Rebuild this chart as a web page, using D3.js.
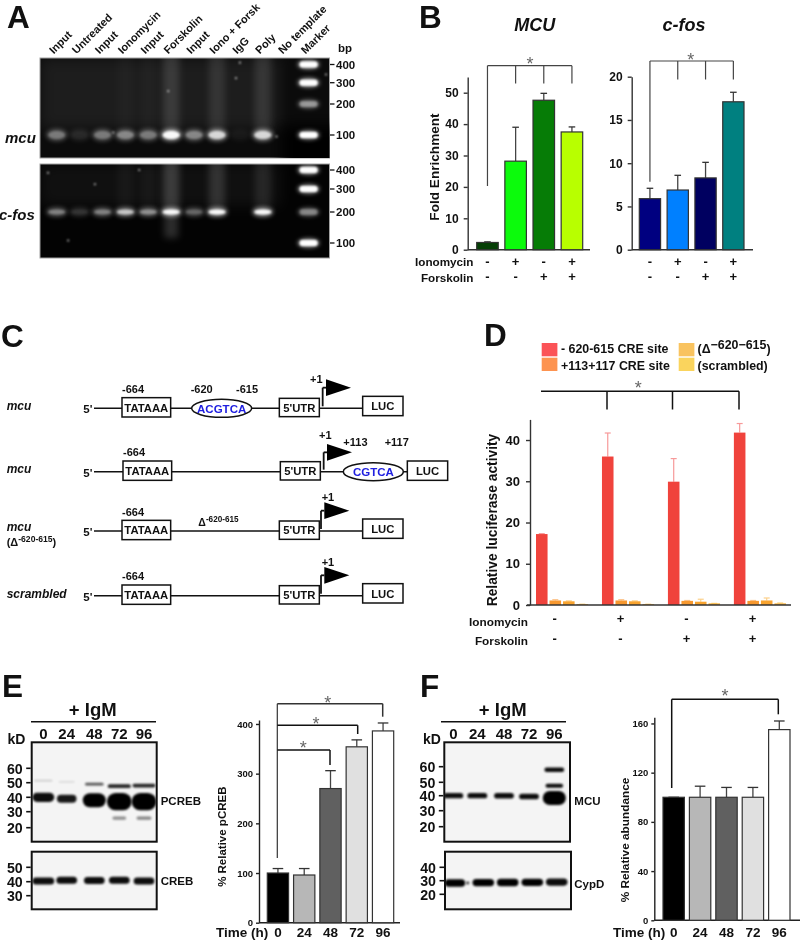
<!DOCTYPE html>
<html><head><meta charset="utf-8">
<script src="https://cdn.jsdelivr.net/npm/d3@7/dist/d3.min.js"></script>
<style>
html,body{margin:0;padding:0;background:#fff}
svg{display:block;filter:blur(0.35px)}
text{font-family:"Liberation Sans",Arial,sans-serif;font-weight:bold;fill:#111}
</style></head><body><svg id="c" width="800" height="940"></svg>
<script>
// ---------- Panel A data ----------
const gelLanes=["Input","Untreated","Input","Ionomycin","Input","Forskolin","Input","Iono + Forsk","IgG","Poly","No template","Marker"];
const mcuBands=[.5,.16,.5,.55,.5,1,.55,.85,.07,.85,0];
const fosBands=[.55,.25,.55,.8,.6,1,.45,1,0,1,0];
const mcuSmear=[0,0,0,.02,.02,.13,0,.1,0,.11,0];
const fosSmear=[0,0,0,.03,.03,.18,0,.14,0,.09,0];
const fosTail=[0,0,0,0,0,.16,0,0,0,0,0];
const bpTicks=[400,300,200,100];
const mcuMarker=[1,1,.6,1];
const fosMarker=[1,1,.55,1];
const mcuSpeckLane=[4.87,7.83,2.47,11.76,8.0,9.6];
const mcuSpeckBp=[260,325,108,345,410,95];
const fosSpeckLane=[.5,-.38,3.6,1.67];
const fosSpeckBp=[108,385,400,325];
// ---------- Panel B data ----------
const treatCats=["a","b","c","d"];
const ionoSigns=["-","+","-","+"];
const forskSigns=["-","-","+","+"];
const mcuVals=[2.3,28.2,47.6,37.5];
const mcuTops=[2.5,39,49.8,39.1];
const mcuColors=["#063f06","#0cfb0c","#067c06","#b8ff00"];
const mcuTicks=[0,10,20,30,40,50];
const fosVals=[5.9,6.9,8.3,17.1];
const fosTops=[7.1,8.6,10.1,18.2];
const fosColors=["#000080","#0080ff","#000060","#008080"];
const fosTicks=[0,5,10,15,20];
// ---------- Panel D data ----------
const lucSeries=["- 620-615 CRE site","+113+117 CRE site","(Δ","(scrambled)"];
const lucVals=[[17.2,1.1,.9,.2],[36,1.1,.9,.2],[29.9,1,.8,.4],[41.8,1,1.1,.4]];
const lucTops=[[17.3,1.3,1,.2],[41.7,1.3,1,.2],[35.5,1.1,1.4,.4],[44,1.1,1.7,.5]];
const lucColors=["#f0433c","#f7982f","#f8a32e","#f8b33c"];
const lucErrColors=["#f79a9a","#fcc690","#fcd08a","#fcd88a"];
const lucLegend=["#fb5357","#fd9350","#f9c35f","#fad45d"];
const lucTicks=[0,10,20,30,40];
// ---------- Panel E / F data ----------
const hours=["0","24","48","72","96"];
const greyFill=["#000000","#b7b7b7","#606060","#e0e0e0","#ffffff"];
const creVals=[100,96,270,354,386];
const creTops=[109,109,306,368,402];
const creTicks=[0,100,200,300,400];
const abuVals=[100,100,100,100,155];
const abuTops=[100,109,108,108,162];
const abuTicks=[0,40,80,120,160];
const eKd=[60,50,40,30,20];
const eKd2=[50,40,30];
const fKd=[60,50,40,30,20];
const fKd2=[40,30,20];
// bands: lane, kD, darkness, half thickness, width factor
const pcrebBands=[[0,51.4,.16,.9,.8],[1,50.6,.1,.9,.7],[2,49,.65,1.3,.8],[3,47.6,.85,1.9,1],[4,48,.85,1.8,1],
 [0,40,.95,4.6,.95],[1,39,.9,4,.85],[2,38,1,7,1],[3,37,1,8.6,1.08],[4,37,1,8.6,1.08],
 [3,26,.42,1.7,.6],[4,26,.45,1.7,.65]];
const crebBands=[[0,40.5,.95,3.5,.95],[1,41,.95,3.5,.9],[2,40.8,.95,3.5,.9],[3,41,.95,3.5,.9],[4,40.4,.95,3.5,.9]];
const mcuBlot=[[0,40,.95,2.6,.9],[1,40,.95,2.6,.9],[2,40,.95,2.8,.9],[3,39.5,.95,2.8,.9],[4,38.5,1,7,1.05],[4,58,.95,2.2,.9],[4,47.5,.95,2,.8]];
const cypBlot=[[0,28.3,1,3.8,.85],[1,28.3,.75,1.4,.14],[2,28.6,1,3.7,.9],[3,28.7,1,3.7,.9],[4,28.8,1,3.6,.9],[5,29,.95,3.6,.9]];

const svg=d3.select("#c");
const defs=svg.append("defs");
[["b1",.9],["b2",2.1],["b3",3.5],["b6",7]].forEach(([id,s])=>{
  defs.append("filter").attr("id",id).attr("x","-80%").attr("y","-80%").attr("width","260%").attr("height","260%")
    .append("feGaussianBlur").attr("stdDeviation",s);
});
const txt=(g,x,y,s,size,o={})=>{
  const t=g.append("text").attr("x",x).attr("y",y).attr("font-size",size).text(s);
  if(o.anchor)t.attr("text-anchor",o.anchor);
  if(o.italic)t.attr("font-style","italic");
  if(o.fill)t.style("fill",o.fill);
  if(o.weight)t.style("font-weight",o.weight);
  if(o.rotate!==undefined)t.attr("transform",`rotate(${o.rotate} ${x} ${y})`);
  return t;
};
const line=(g,x1,y1,x2,y2,c="#111",w=1.5)=>g.append("line").attr("x1",x1).attr("y1",y1).attr("x2",x2).attr("y2",y2).attr("stroke",c).attr("stroke-width",w);
const star=(g,x,cy)=>txt(g,x,cy+10.2,"*",18,{anchor:"middle",fill:"#666",weight:"normal"});

// panel letters
[["A",7,28],["B",419,28],["C",1,347],["D",484,346],["E",2,697],["F",420,697]].forEach(d=>txt(svg,d[1],d[2],d[0],31.5));

// ---------- Panel A ----------
const A=svg.append("g");
const laneX=d3.scaleLinear().domain([0,11]).range([56.7,308.6]);
const gelW=[40,329.5];
function gel(y0,y1,bpRange,bands,smear,marker,speckL,speckB,bandRy,bgColor,upperOp){
  const isMcu=bands===mcuBands;
  const bp=d3.scaleLinear().domain([100,200,300,400]).range(bpRange);
  const id="clip"+y0;
  defs.append("clipPath").attr("id",id).append("rect").attr("x",gelW[0]).attr("y",y0).attr("width",gelW[1]-gelW[0]).attr("height",y1-y0);
  A.append("rect").attr("x",gelW[0]).attr("y",y0).attr("width",gelW[1]-gelW[0]).attr("height",y1-y0).attr("fill",bgColor).attr("stroke","#a0a0a0").attr("stroke-width",1);
  const g=A.append("g").attr("clip-path",`url(#${id})`);
  const bandY=bp(isMcu?100:200);
  if(upperOp) g.append("rect").attr("x",gelW[0]).attr("y",y0).attr("width",240).attr("height",bandY-y0-6).attr("fill","#fff").attr("opacity",upperOp).attr("filter","url(#b6)");
  if(isMcu) g.append("rect").attr("x",laneX(10)-4).attr("y",bp(150)+6).attr("width",70).attr("height",70).attr("fill","#000").attr("filter","url(#b6)");
  g.selectAll(".sm").data(smear).join("rect").attr("x",(d,i)=>laneX(i)-8).attr("y",y0-6).attr("width",16)
    .attr("height",bandY-y0+4).attr("fill","#fff").attr("opacity",d=>d).attr("filter","url(#b3)");
  if(!isMcu) g.selectAll(".tl").data(fosTail).join("rect").attr("x",(d,i)=>laneX(i)-7).attr("y",bandY).attr("width",14)
    .attr("height",26).attr("fill","#fff").attr("opacity",d=>d).attr("filter","url(#b3)");
  // soft halo plus brighter core for each band
  g.selectAll(".hl").data(bands).join("ellipse").attr("cx",(d,i)=>laneX(i)).attr("cy",bandY).attr("rx",10.5).attr("ry",bandRy+1)
    .attr("fill","#fff").attr("opacity",d=>d*.55).attr("filter","url(#b2)");
  g.selectAll(".bd").data(bands).join("ellipse").attr("cx",(d,i)=>laneX(i)).attr("cy",bandY).attr("rx",8.5).attr("ry",bandRy-1.2)
    .attr("fill","#fff").attr("opacity",d=>d*d*.95).attr("filter","url(#b1)");
  g.selectAll(".mh").data(bpTicks).join("ellipse").attr("cx",laneX(11)).attr("cy",d=>bp(d)).attr("rx",11).attr("ry",4.6)
    .attr("fill","#fff").attr("opacity",(d,i)=>marker[i]*.6).attr("filter","url(#b2)");
  g.selectAll(".mk").data(bpTicks).join("rect").attr("x",laneX(11)-9).attr("y",d=>bp(d)-3).attr("width",18).attr("height",6).attr("rx",3)
    .attr("fill","#fff").attr("opacity",(d,i)=>marker[i]*marker[i]).attr("filter","url(#b1)");
  g.selectAll(".sp").data(speckL).join("circle").attr("cx",d=>laneX(d)).attr("cy",(d,i)=>bp(speckB[i])).attr("r",1.1).attr("fill","#bbb").attr("filter","url(#b1)");
  bpTicks.forEach(v=>{line(A,gelW[1]+.5,bp(v),gelW[1]+5,bp(v),"#111",1.3);txt(A,336,bp(v)+4.2,v,11.5);});
}
gel(58,158,[135,104,82.7,64.5],mcuBands,mcuSmear,mcuMarker,mcuSpeckLane,mcuSpeckBp,5.2,"#0b0b0b",.07);
gel(164,258,[243,212,189,170],fosBands,fosSmear,fosMarker,fosSpeckLane,fosSpeckBp,3.8,"#030303",.05);
gelLanes.forEach((s,i)=>txt(A,laneX(i)-3,54.5,s,11,{rotate:-45}));
txt(A,338,52,"bp",11.5);
txt(A,5,143,"mcu",15,{italic:true});
txt(A,-1,220,"c-fos",15,{italic:true});

// ---------- generic bar chart ----------
function chart(o){
  const g=svg.append("g");
  const y=d3.scaleLinear().domain([0,o.dMax]).range([o.y0,o.yTop]);
  const x=d3.scaleBand().domain(o.cats).range(o.barRange).paddingInner(o.pad);
  g.append("g").attr("transform",`translate(${o.ax},0)`)
    .call(d3.axisLeft(y).tickValues(o.ticks).tickSize(o.tick||4).tickSizeOuter(0))
    .call(s=>{s.selectAll("path,line").attr("stroke",o.axC||"#333").attr("stroke-width",1.4);
      s.selectAll("text").attr("font-size",o.tf).attr("x",-(o.tick||4)-(o.tp||5)).style("font-family",'"Liberation Sans"').style("font-weight","bold").attr("fill","#111");});
  line(g,o.ax,o.y0,o.xEnd,o.y0,o.axC||"#333",1.4);
  g.selectAll(".err").data(o.tops).join("g").each(function(d,i){
    const s=d3.select(this),cx=x(o.cats[i])+x.bandwidth()/2;
    line(s,cx,y(o.vals[i]),cx,y(d),"#444",1.3);
    line(s,cx-o.cap,y(d),cx+o.cap,y(d),"#333",1.3);
  });
  g.selectAll(".bar").data(o.vals).join("rect").attr("x",(d,i)=>x(o.cats[i])).attr("y",d=>y(d)).attr("width",x.bandwidth()).attr("height",d=>o.y0-y(d))
    .attr("fill",(d,i)=>o.colors[i]).attr("stroke",o.stroke||"#333").attr("stroke-width",1.2);
  return {g,x,y};
}
// ---------- Panel B ----------
const bm=chart({cats:treatCats,vals:mcuVals,tops:mcuTops,colors:mcuColors,ticks:mcuTicks,dMax:55,y0:249.7,yTop:77,ax:467.7,xEnd:590,barRange:[476.7,582.7],pad:.235,cap:3.3,tf:12});
const bf=chart({cats:treatCats,vals:fosVals,tops:fosTops,colors:fosColors,ticks:fosTicks,dMax:20,y0:249.7,yTop:76.7,ax:631.7,xEnd:753,barRange:[639.3,744],pad:.235,cap:3.3,tf:12});
txt(svg,534.7,31,"MCU",18,{anchor:"middle",italic:true});
txt(svg,684,31,"c-fos",18,{anchor:"middle",italic:true});
txt(svg,438.5,167,"Fold Enrichment",13.6,{anchor:"middle",rotate:-90});
function signs(g,x,cats,row,yb,size=13){cats.forEach((c,i)=>txt(g,x(c),yb,row[i],size,{anchor:"middle"}));}
const cx=ch=>c=>ch.x(c)+ch.x.bandwidth()/2;
signs(svg,cx(bm),treatCats,ionoSigns,265.5);signs(svg,cx(bm),treatCats,forskSigns,281);
signs(svg,cx(bf),treatCats,ionoSigns,265.5);signs(svg,cx(bf),treatCats,forskSigns,281);
txt(svg,473.5,266,"Ionomycin",11.7,{anchor:"end"});
txt(svg,473.5,281.5,"Forskolin",11.7,{anchor:"end"});
function bracket(g,xs,yh,firstBottom,restBottom,c,w){
  line(g,xs[0],yh,xs[xs.length-1],yh,c,w);
  xs.forEach((x,i)=>line(g,x,yh,x,i===0?firstBottom:restBottom,c,w));
}
const cen=(ch,i)=>ch.x(treatCats[i])+ch.x.bandwidth()/2;
bracket(svg,[cen(bm,0),cen(bm,1),cen(bm,2),cen(bm,3)],65.7,186,83.5,"#444",1.2);
star(svg,530,60);
bracket(svg,[cen(bf,0),cen(bf,1),cen(bf,2),cen(bf,3)],61,181.7,79.5,"#444",1.2);
star(svg,690.7,56);

// ---------- Panel C ----------
const C=svg.append("g");
const X=v=>v/3, Y=v=>320+v/3;
function construct(r){
  line(C,X(282),Y(r.y),X(r.lucL),Y(r.y),"#111",1.5);
  txt(C,X(250),Y(r.y)+5,"5'",11.5);
  const box=(a,b,t,u,s)=>{
    C.append("rect").attr("x",X(a)).attr("y",Y(t)).attr("width",(b-a)/3).attr("height",(u-t)/3).attr("fill","#fff").attr("stroke","#111").attr("stroke-width",1.5);
    txt(C,X(a+b)/2,Y((t+u)/2)+4.2,s,11.3,{anchor:"middle"});
  };
  box(r.tx,r.tx+146,r.y-32,r.y+26,"TATAAA");
  box(r.ux,r.ux+120,r.y-30,r.y+25,"5'UTR");
  box(r.lucL,r.lucL+121,r.y-36+r.lucDy,r.y+22+r.lucDy,"LUC");
  line(C,X(r.ax),Y(r.y)-2,X(r.ax),Y(r.tip),"#111",1.8);
  line(C,X(r.ax),Y(r.tip),X(r.ax+10),Y(r.tip),"#111",1.8);
  C.append("path").attr("d",d3.line()([[X(r.ax+10),Y(r.tip-25)],[X(r.ax+85),Y(r.tip)],[X(r.ax+10),Y(r.tip+25)]])+"Z").attr("fill","#000");
  txt(C,X(r.p1x),Y(r.p1y),"+1",11);
  txt(C,X(r.tx),Y(r.y-46),"-664",11);
  if(r.ell){
    C.append("ellipse").attr("cx",X(r.ell[0])).attr("cy",Y(r.y)).attr("rx",30).attr("ry",9).attr("fill","#fff").attr("stroke","#111").attr("stroke-width",1.5);
    txt(C,X(r.ell[0]),Y(r.y)+4.2,r.ell[1],11.5,{anchor:"middle",fill:"#2020e0"});
  }
}
[{y:265,tx:366,ux:838,lucL:1088,lucDy:0,ax:968,tip:203,p1x:930,p1y:188,ell:[665,"ACGTCA"]},
 {y:455,tx:369,ux:841,lucL:1222,lucDy:4,ax:971,tip:397,p1x:957,p1y:358,ell:[1120,"CGTCA"]},
 {y:633,tx:366,ux:838,lucL:1088,lucDy:0,ax:963,tip:572,p1x:965,p1y:543},
 {y:827,tx:366,ux:838,lucL:1088,lucDy:0,ax:963,tip:766,p1x:965,p1y:737}].forEach(construct);
txt(C,X(572),Y(220),"-620",11);
txt(C,X(708),Y(220),"-615",11);
txt(C,X(1030),Y(379),"+113",11);
txt(C,X(1154),Y(379),"+117",11);
txt(C,X(20),Y(271),"mcu",12,{italic:true});
txt(C,X(20),Y(460),"mcu",12,{italic:true});
txt(C,X(20),Y(632),"mcu",12,{italic:true});
txt(C,X(20),Y(833),"scrambled",12,{italic:true});
const delta=(x,y,size,pre,post)=>{const t=txt(C,x,y,pre+"Δ",size);t.append("tspan").attr("dy",-4).attr("font-size",size*.78).text("-620-615");if(post)t.append("tspan").attr("dy",4).text(post);};
delta(X(20),Y(679),11,"(",")");
delta(X(595),Y(618),10.5,"");

// ---------- Panel D ----------
const D=svg.append("g");
const dy=d3.scaleLinear().domain([0,45]).range([605,419.4]);
const gx=d3.scaleBand().domain(d3.range(4)).range([536,786]).paddingInner(0.21);
const bx=d3.scaleBand().domain(d3.range(4)).range([0,gx.bandwidth()]).paddingInner(.145);
D.append("g").attr("transform","translate(530,0)").call(d3.axisLeft(dy).tickValues(lucTicks).tickSize(4).tickSizeOuter(0))
  .call(s=>{s.selectAll("path,line").attr("stroke","#333").attr("stroke-width",1.4);
    s.selectAll("text").attr("font-size",13).attr("x",-10).style("font-family",'"Liberation Sans"').style("font-weight","bold").attr("fill","#111");});
lucVals.forEach((gv,g)=>gv.forEach((v,s)=>{
  const x=gx(g)+bx(s),m=x+bx.bandwidth()/2;
  line(D,m,dy(v),m,dy(lucTops[g][s]),lucErrColors[s],1.2);
  line(D,m-3,dy(lucTops[g][s]),m+3,dy(lucTops[g][s]),lucErrColors[s],1.2);
  D.append("rect").attr("x",x).attr("y",dy(v)).attr("width",bx.bandwidth()).attr("height",605-dy(v)).attr("fill",lucColors[s]);
}));
line(D,527,605,791,605,"#333",1.4);
txt(D,497,520,"Relative luciferase activity",13.8,{anchor:"middle",rotate:-90});
const dCen=g=>gx(g)+bx.bandwidth()/2+(bx(1)+bx(2))/2-7.5;
d3.range(4).forEach(g=>{txt(D,dCen(g),623,ionoSigns[g],13,{anchor:"middle"});txt(D,dCen(g),642.5,forskSigns[g],13,{anchor:"middle"});});
txt(D,528,626,"Ionomycin",11.8,{anchor:"end"});
txt(D,528,645,"Forskolin",11.8,{anchor:"end"});
bracket(D,[541,607,672.5,739],391.3,391.3,409.5,"#111",1.5);
star(D,638.3,383.3);
const lg=[[541.7,343,561,353],[541.7,357.7,561,370],[678.7,343,697.5,353],[678.7,357.7,697.5,370]];
lg.forEach((p,i)=>{D.append("rect").attr("x",p[0]).attr("y",p[1]).attr("width",15.7).attr("height",13.3).attr("fill",lucLegend[i]);
  if(i!==2)txt(D,p[2],p[3],lucSeries[i],12.4);});
{const t=txt(D,697.5,353,lucSeries[2],12.4);t.append("tspan").attr("dy",-4).text("−620−615");t.append("tspan").attr("dy",4).text(")");}

// ---------- Blots ----------
function blot(cfg){
  const g=svg.append("g");
  const yk=d3.scaleLinear().domain(cfg.kds).range(cfg.kdY);
  const lx=d3.scaleOrdinal().domain(d3.range(cfg.laneX.length)).range(cfg.laneX);
  const id="cb"+cfg.rect[0]+cfg.rect[1];
  defs.append("clipPath").attr("id",id).append("rect").attr("x",cfg.rect[0]).attr("y",cfg.rect[1]).attr("width",cfg.rect[2]).attr("height",cfg.rect[3]);
  const inner=g.append("g").attr("clip-path",`url(#${id})`);
  inner.append("rect").attr("x",cfg.rect[0]).attr("y",cfg.rect[1]).attr("width",cfg.rect[2]).attr("height",cfg.rect[3]).attr("fill","#f4f4f4");
  inner.selectAll("rect.band").data(cfg.bands).join("rect").attr("class","band")
    .attr("x",d=>lx(d[0])-cfg.bw*d[4]/2).attr("width",d=>cfg.bw*d[4])
    .attr("y",d=>yk(d[1])-d[3]).attr("height",d=>d[3]*2).attr("rx",d=>d[3]).attr("ry",d=>d[3])
    .attr("fill","#000").attr("opacity",d=>d[2]).attr("filter","url(#b1)");
  g.append("rect").attr("x",cfg.rect[0]).attr("y",cfg.rect[1]).attr("width",cfg.rect[2]).attr("height",cfg.rect[3]).attr("fill","none").attr("stroke","#111").attr("stroke-width",2);
  cfg.ticks.forEach(k=>{line(g,cfg.rect[0]-5.5,yk(k),cfg.rect[0]-1,yk(k),"#111",1.6);
    txt(g,cfg.rect[0]-9,yk(k)+5.2,k,14.2,{anchor:"end"});});
  txt(g,cfg.lblX,cfg.lblY,cfg.lbl,cfg.lblF||11.5);
}
function blotHead(x1,x2,mid,labX,kdX){
  const g=svg.append("g");
  txt(g,mid,715.5,"+ IgM",18.5,{anchor:"middle"});
  line(g,x1,721.7,x2,721.7,"#111",1.6);
  hours.forEach((h,i)=>txt(g,labX[i],738.5,h,15,{anchor:"middle"}));
  txt(g,kdX,744,"kD",14);
}
blotHead(31,156,92.7,[43.3,66.7,94.3,119.3,144],7.5);
blot({rect:[31.7,742.3,125,99.4],kds:[20,30,40,50,60],kdY:[827.7,811.7,797.3,782.7,768.3],ticks:eKd,laneX:[43.3,66.7,94.3,119.3,144],bw:23,bands:pcrebBands,lbl:"PCREB",lblX:160.7,lblY:805});
blot({rect:[31.7,851.7,125,57.6],kds:[30,40,50],kdY:[895.7,881.7,867.3],ticks:eKd2,laneX:[43.3,66.7,94.3,119.3,144],bw:23,bands:crebBands,lbl:"CREB",lblX:160.7,lblY:885});
blotHead(441,566,502.7,[453.3,477.3,504,529,554.3],423);
blot({rect:[444.3,742.3,125.7,99.4],kds:[20,30,40,50,60],kdY:[826.7,810.7,795.7,782.3,766.7],ticks:fKd,laneX:[453.3,477.3,504,529,554.3],bw:22,bands:mcuBlot,lbl:"MCU",lblX:574.3,lblY:804.5});
blot({rect:[445,851.7,126,57.6],kds:[20,30,40],kdY:[894.3,880.7,867.3],ticks:fKd2,laneX:[455,467.7,483.3,507.7,532.3,556.7],bw:24,bands:cypBlot,lbl:"CypD",lblX:574.3,lblY:887.5});

// ---------- Panel E chart ----------
const ec=chart({cats:hours,vals:creVals,tops:creTops,colors:greyFill,ticks:creTicks,dMax:408,y0:922.7,yTop:720,ax:259,xEnd:400,barRange:[267.3,393.7],pad:.19,cap:5.3,tf:9.5,tick:3,tp:3,axC:"#222"});
txt(svg,226,836.7,"% Relative pCREB",11.5,{anchor:"middle",rotate:-90});
txt(svg,216,937,"Time (h)",13.5);
hours.forEach(h=>txt(svg,ec.x(h)+ec.x.bandwidth()/2,937,h,13.5,{anchor:"middle"}));
line(svg,277.3,703.7,277.3,858,"#333",1.2);
[[703.7,382.7,716.7,"#333",327.7,698.3],[725.3,357.7,734,"#111",316,719.3],[750,330,765,"#111",303.3,743.3]].forEach(([yh,xe,ye,c,sx,sy])=>{
  line(svg,277.3,yh,xe,yh,c,1.5);line(svg,xe,yh,xe,ye,c,1.5);star(svg,sx,sy);
});
// ---------- Panel F chart ----------
const fc=chart({cats:hours,vals:abuVals,tops:abuTops,colors:greyFill,ticks:abuTicks,dMax:165,y0:920.3,yTop:717.3,ax:654.3,xEnd:800,barRange:[663,790],pad:.19,cap:5.3,tf:9.5,tick:3,tp:3,axC:"#222"});
txt(svg,629,840,"% Relative abundance",11.8,{anchor:"middle",rotate:-90});
txt(svg,613,937,"Time (h)",13.5);
hours.forEach(h=>txt(svg,fc.x(h)+fc.x.bandwidth()/2,937,h,13.5,{anchor:"middle"}));
line(svg,671.7,699.3,671.7,788,"#111",1.5);
line(svg,671.7,699.3,778.3,699.3,"#111",1.5);
line(svg,778.3,699.3,778.3,714.3,"#111",1.5);
star(svg,725,691.7);
</script></body></html>
